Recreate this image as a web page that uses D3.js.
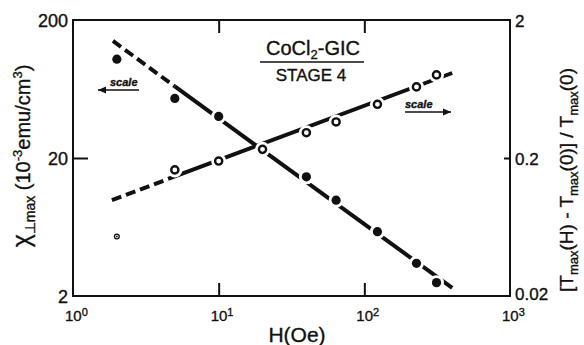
<!DOCTYPE html>
<html>
<head>
<meta charset="utf-8">
<script src="https://cdnjs.cloudflare.com/ajax/libs/d3/7.8.5/d3.min.js"></script>
<style>
	body { margin: 0; background: #fff; }
	svg { display: block; }
	text { font-family: "Liberation Sans", Arial, sans-serif; fill: #111; stroke: #111; stroke-width: 0.35; }
</style>
</head>
<body>
<svg id="chart" width="584" height="345"></svg>
<script>
// applied field H (Oe)
var fieldH = [2, 5, 10, 20, 40, 64, 123, 228, 313];
// chi perp max, 10^-3 emu/cm3 (left scale), no filled point at 20 Oe
var chiMax = [104, 54, 40, null, 14.6, 9.9, 5.85, 3.45, 2.5];
// [Tmax(H) - Tmax(0)] / Tmax(0) (right scale)
var tShift = [0.054, 0.164, 0.19, 0.231, 0.305, 0.365, 0.49, 0.655, 0.80];

// straight fits: first piece dashed, second piece solid
var chiFitH = [1.88, 5, 401];
var chiFitV = [141, 66, 2.29];
var tFitH = [1.85, 5, 401];
var tFitV = [0.099, 0.147, 0.826];

var xTicks = [1, 10, 100, 1000];
var leftTicks = [200, 20, 2];
var rightTicks = [2, 0.2, 0.02];

const svg = d3.select("#chart");
const margin = {top: 20, right: 74, bottom: 49, left: 73};
const width = 584, height = 345;

let x = d3.scaleLog()
	.domain([1, 1000])
	.range([margin.left, width - margin.right]);

let yL = d3.scaleLog()
	.domain([2, 200])
	.range([height - margin.bottom, margin.top]);

let yR = d3.scaleLog()
	.domain([0.02, 2])
	.range([height - margin.bottom, margin.top]);

// frame
svg.append("rect")
	.attr("x", x(1)).attr("y", yL(200))
	.attr("width", x(1000) - x(1)).attr("height", yL(2) - yL(200))
	.attr("fill", "none").attr("stroke", "#111").attr("stroke-width", 2);

// inner ticks
function ticksOnly(g) {
	g.select(".domain").remove();
	g.selectAll(".tick line").attr("stroke", "#111").attr("stroke-width", 2);
	g.selectAll(".tick text").remove();
}
svg.append("g").attr("transform", "translate(0," + yL(2) + ")")
	.call(d3.axisBottom(x).tickValues([10, 100]).tickSize(-13)).call(ticksOnly);
svg.append("g").attr("transform", "translate(0," + yL(200) + ")")
	.call(d3.axisTop(x).tickValues([10, 100]).tickSize(-13)).call(ticksOnly);
svg.append("g").attr("transform", "translate(" + x(1) + ",0)")
	.call(d3.axisLeft(yL).tickValues([20]).tickSize(-15)).call(ticksOnly);
svg.append("g").attr("transform", "translate(" + x(1000) + ",0)")
	.call(d3.axisRight(yR).tickValues([0.2]).tickSize(-6)).call(ticksOnly);

// tick labels
svg.selectAll(".lt").data(leftTicks).enter().append("text")
	.attr("x", x(1) - 5).attr("y", d => yL(d) + 7)
	.attr("text-anchor", "end").attr("font-size", 18)
	.text(d => d);

svg.selectAll(".rt").data(rightTicks).enter().append("text")
	.attr("x", x(1000) + 5).attr("y", d => yR(d) + (d < 0.05 ? 4 : 7))
	.attr("font-size", 17)
	.text(d => d);

let xl = svg.selectAll(".xt").data(xTicks).enter().append("text")
	.attr("x", d => x(d) - 8).attr("y", 321)
	.attr("font-size", 15);
xl.append("tspan").text("10");
xl.append("tspan").attr("dy", -5).attr("font-size", 11).text(d => Math.round(Math.log10(d)));

// axis titles
svg.append("text")
	.attr("x", 297).attr("y", 342)
	.attr("text-anchor", "middle").attr("font-size", 21)
	.text("H(Oe)");

let lt = svg.append("text")
	.attr("transform", "translate(30,156) rotate(-90)")
	.attr("text-anchor", "middle").attr("font-size", 20);
lt.append("tspan").attr("font-size", 25).text("χ");
lt.append("tspan").attr("font-size", 14).attr("dy", 5).text("⊥max");
lt.append("tspan").attr("dy", -5).text(" (10");
lt.append("tspan").attr("font-size", 13).attr("dy", -8).text("-3");
lt.append("tspan").attr("dy", 8).text("emu/cm");
lt.append("tspan").attr("font-size", 13).attr("dy", -8).text("3");
lt.append("tspan").attr("dy", 8).text(")");

let rt = svg.append("text")
	.attr("transform", "translate(573,180) rotate(-90)")
	.attr("text-anchor", "middle").attr("font-size", 19);
[["[T", 0], ["max", 1], ["(H) - T", 0], ["max", 1], ["(0)] / T", 0], ["max", 1], ["(0)", 0]]
	.forEach(function (p, i, arr) {
		var prev = i > 0 ? arr[i - 1][1] : 0;
		var t = rt.append("tspan").text(p[0]);
		if (p[1]) t.attr("font-size", 13).attr("dy", 5);
		else if (prev) t.attr("dy", -5);
	});

// title box
svg.append("text").attr("x", 313).attr("y", 55)
	.attr("text-anchor", "middle").attr("font-size", 20)
	.call(t => {
		t.append("tspan").text("CoCl");
		t.append("tspan").attr("font-size", 13).attr("dy", 4).text("2");
		t.append("tspan").attr("dy", -4).text("-GIC");
	});
svg.append("line").attr("x1", 260).attr("x2", 364).attr("y1", 62).attr("y2", 62)
	.attr("stroke", "#111").attr("stroke-width", 1.6);
svg.append("text").attr("x", 311).attr("y", 81)
	.attr("text-anchor", "middle").attr("font-size", 17)
	.text("STAGE 4");

// "scale" arrows
function scaleArrow(x0, x1, y, tx) {
	svg.append("text").attr("x", tx).attr("y", y - 4)
		.attr("font-size", 11).attr("font-weight", "bold").attr("font-style", "italic")
		.text("scale");
	svg.append("line").attr("x1", x0).attr("x2", x1).attr("y1", y).attr("y2", y)
		.attr("stroke", "#111").attr("stroke-width", 1.5);
	var dir = x1 > x0 ? 1 : -1;
	svg.append("path")
		.attr("d", "M" + x1 + "," + y + "l" + (-8 * dir) + ",-3.5l0,7z")
		.attr("fill", "#111");
}
scaleArrow(139, 98, 90, 110);
scaleArrow(405, 451, 112, 405);

// fitted lines
const lineDrawer = d3.line()
	.x(d => x(d.h))
	.y(d => d.y);

function fitPieces(hs, vs, scale) {
	var pts = hs.map((h, i) => ({h: h, y: scale(vs[i])}));
	svg.append("path").datum(pts.slice(0, 2))
		.attr("fill", "none").attr("stroke", "#111").attr("stroke-width", 4)
		.attr("stroke-dasharray", "10,5").attr("d", lineDrawer);
	svg.append("path").datum(pts.slice(1))
		.attr("fill", "none").attr("stroke", "#111").attr("stroke-width", 4)
		.attr("d", lineDrawer);
}
fitPieces(chiFitH, chiFitV, yL);
fitPieces(tFitH, tFitV, yR);

// points with white halos
var filled = fieldH.map((h, i) => ({h: h, v: chiMax[i]})).filter(d => d.v != null);
var open = fieldH.map((h, i) => ({h: h, v: tShift[i], i: i}));

svg.selectAll(".halo1").data(filled).enter().append("circle")
	.attr("cx", d => x(d.h)).attr("cy", d => yL(d.v)).attr("r", 7.5).attr("fill", "#fff");
svg.selectAll(".halo2").data(open.filter(d => d.i > 0)).enter().append("circle")
	.attr("cx", d => x(d.h)).attr("cy", d => yR(d.v)).attr("r", 7.5).attr("fill", "#fff");

svg.selectAll(".dot").data(filled).enter().append("circle")
	.attr("cx", d => x(d.h)).attr("cy", d => yL(d.v)).attr("r", 4.6).attr("fill", "#111");
svg.selectAll(".ring").data(open).enter().append("circle")
	.attr("cx", d => x(d.h)).attr("cy", d => yR(d.v))
	.attr("r", d => d.i === 0 ? 2.4 : 3.6)
	.attr("fill", "#fff").attr("stroke", "#111")
	.attr("stroke-width", d => d.i === 0 ? 1.3 : 2.4);
// the 2 Oe point has a centre dot
svg.append("circle").attr("cx", x(fieldH[0])).attr("cy", yR(tShift[0])).attr("r", 0.9).attr("fill", "#111");
</script>
</body>
</html>
